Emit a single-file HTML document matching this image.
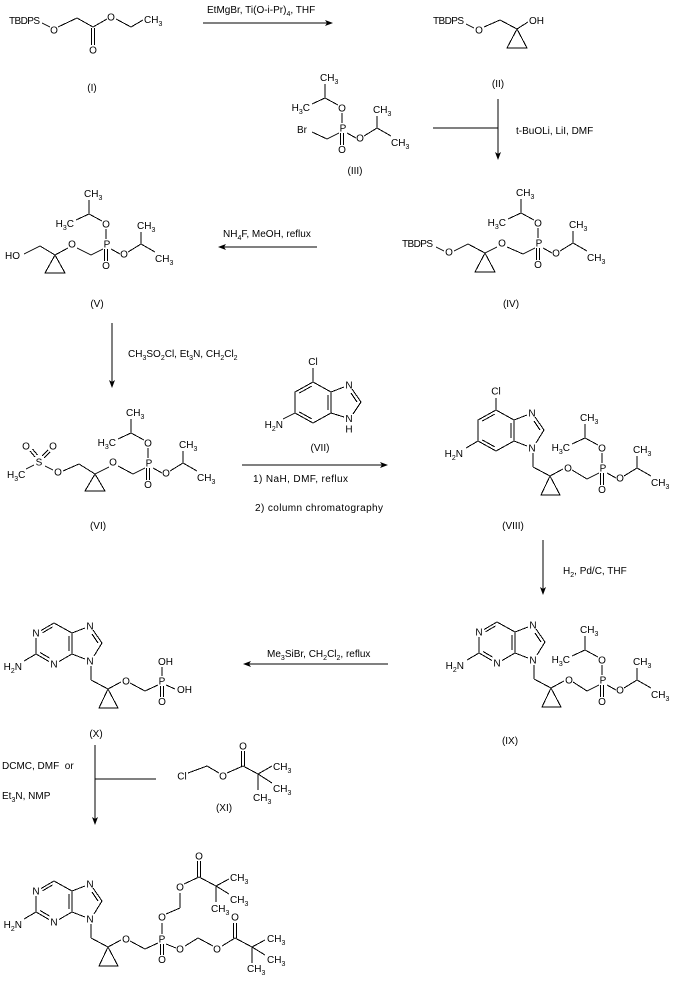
<!DOCTYPE html>
<html><head><meta charset="utf-8"><style>
html,body{margin:0;padding:0;background:#fff;}
svg{display:block;}
text{font-family:"Liberation Sans",Arial,sans-serif;font-size:10px;fill:#000;}
.m{text-anchor:middle;}
.e{text-anchor:end;}
.s{font-size:7px;}
line,polyline,polygon{stroke:#000;stroke-width:1;fill:none;shape-rendering:crispEdges;}
polygon.a{fill:#000;stroke:none;shape-rendering:auto;}
</style></head><body>
<svg width="677" height="982" viewBox="0 0 677 982" xmlns="http://www.w3.org/2000/svg">

<!-- (I) -->
<text x="9" y="24" textLength="31">TBDPS</text>
<line x1="42" y1="23" x2="50" y2="27"/>
<text class="m" x="54" y="33.5">O</text>
<polyline points="58,27 77,18 93,27 107,19"/>
<line x1="91.5" y1="28" x2="91.5" y2="45"/>
<line x1="94.5" y1="28" x2="94.5" y2="45"/>
<text class="m" x="93" y="53.5">O</text>
<text class="m" x="111" y="20.5">O</text>
<polyline points="116,19 131,27 143,20"/>
<text x="144" y="23">CH<tspan dy="3" class="s">3</tspan></text>
<text class="m" x="92" y="91">(I)</text>

<!-- arrow 1 -->
<line x1="203" y1="23" x2="330" y2="23"/>
<polygon class="a" points="333,23 325,20 327,23 325,26"/>
<text x="207" y="13">EtMgBr, Ti(O-i-Pr)<tspan dy="3" class="s">4</tspan><tspan dy="-3">, THF</tspan></text>

<!-- (II) -->
<text x="433" y="24" textLength="31">TBDPS</text>
<line x1="466" y1="24" x2="474" y2="28"/>
<text class="m" x="479" y="33.5">O</text>
<polyline points="484,27 500,20 517,29 528,22"/>
<text x="529" y="24">OH</text>
<polygon points="517,29 507,48 527,48"/>
<text class="m" x="498" y="87">(II)</text>

<!-- arrow 2 -->
<line x1="498" y1="99" x2="498" y2="157"/>
<polygon class="a" points="498,160 495,152 498,154 501,152"/>
<line x1="433" y1="128" x2="498" y2="128"/>
<text x="516" y="134">t-BuOLi, LiI, DMF</text>

<!-- (III) -->
<g transform="translate(343,128)">
<text class="m" x="0" y="3.5">P</text>
<line x1="-1" y1="-5" x2="-1" y2="-15"/>
<text class="m" x="-1" y="-16.5">O</text>
<line x1="-5" y1="-23" x2="-18" y2="-30"/>
<line x1="-18" y1="-30" x2="-18" y2="-44"/>
<text x="-23" y="-47">CH<tspan dy="3" class="s">3</tspan></text>
<line x1="-18" y1="-30" x2="-31" y2="-24"/>
<text class="e" x="-33" y="-17">H<tspan dy="3" class="s">3</tspan><tspan dy="-3">C</tspan></text>
<line x1="-2.5" y1="5" x2="-2.5" y2="17"/>
<line x1="0.5" y1="5" x2="0.5" y2="17"/>
<text class="m" x="-1" y="25">O</text>
<line x1="4" y1="5" x2="13" y2="10"/>
<text class="m" x="17" y="13.5">O</text>
<line x1="21" y1="8" x2="34" y2="0"/>
<line x1="34" y1="0" x2="34" y2="-12"/>
<text x="30" y="-15">CH<tspan dy="3" class="s">3</tspan></text>
<line x1="34" y1="0" x2="48" y2="8"/>
<text x="48" y="18">CH<tspan dy="3" class="s">3</tspan></text>
<line x1="-4" y1="5" x2="-16" y2="11"/>
</g>
<line x1="327" y1="139" x2="312" y2="132"/>
<text x="297" y="133">Br</text>
<text class="m" x="355" y="174">(III)</text>

<!-- (IV) -->
<g transform="translate(539,243)">
<text class="m" x="0" y="3.5">P</text>
<line x1="-1" y1="-5" x2="-1" y2="-15"/>
<text class="m" x="-1" y="-16.5">O</text>
<line x1="-5" y1="-23" x2="-18" y2="-30"/>
<line x1="-18" y1="-30" x2="-18" y2="-44"/>
<text x="-23" y="-47">CH<tspan dy="3" class="s">3</tspan></text>
<line x1="-18" y1="-30" x2="-31" y2="-24"/>
<text class="e" x="-33" y="-17">H<tspan dy="3" class="s">3</tspan><tspan dy="-3">C</tspan></text>
<line x1="-2.5" y1="5" x2="-2.5" y2="17"/>
<line x1="0.5" y1="5" x2="0.5" y2="17"/>
<text class="m" x="-1" y="25">O</text>
<line x1="4" y1="5" x2="13" y2="10"/>
<text class="m" x="17" y="13.5">O</text>
<line x1="21" y1="8" x2="34" y2="0"/>
<line x1="34" y1="0" x2="34" y2="-12"/>
<text x="30" y="-15">CH<tspan dy="3" class="s">3</tspan></text>
<line x1="34" y1="0" x2="48" y2="8"/>
<text x="48" y="18">CH<tspan dy="3" class="s">3</tspan></text>
<line x1="-4" y1="5" x2="-16" y2="11"/>
</g>
<line x1="523" y1="254" x2="507" y2="247"/>
<text class="m" x="502" y="246.5">O</text>
<line x1="497" y1="247" x2="485" y2="253"/>
<polygon points="485,253 475,272 495,272"/>
<line x1="485" y1="253" x2="468" y2="244"/>
<line x1="468" y1="244" x2="454" y2="251"/>
<text class="m" x="449" y="255.5">O</text>
<line x1="444" y1="251" x2="436" y2="247"/>
<text x="402" y="247" textLength="31">TBDPS</text>
<text class="m" x="511" y="307">(IV)</text>

<!-- arrow IV -> V -->
<line x1="221" y1="247" x2="317" y2="247"/>
<polygon class="a" points="218,247 226,244 224,247 226,250"/>
<text x="223" y="237">NH<tspan dy="3" class="s">4</tspan><tspan dy="-3">F, MeOH, reflux</tspan></text>

<!-- (V) -->
<g transform="translate(107,244)">
<text class="m" x="0" y="3.5">P</text>
<line x1="-1" y1="-5" x2="-1" y2="-15"/>
<text class="m" x="-1" y="-16.5">O</text>
<line x1="-5" y1="-23" x2="-18" y2="-30"/>
<line x1="-18" y1="-30" x2="-18" y2="-44"/>
<text x="-23" y="-47">CH<tspan dy="3" class="s">3</tspan></text>
<line x1="-18" y1="-30" x2="-31" y2="-24"/>
<text class="e" x="-33" y="-17">H<tspan dy="3" class="s">3</tspan><tspan dy="-3">C</tspan></text>
<line x1="-2.5" y1="5" x2="-2.5" y2="17"/>
<line x1="0.5" y1="5" x2="0.5" y2="17"/>
<text class="m" x="-1" y="25">O</text>
<line x1="4" y1="5" x2="13" y2="10"/>
<text class="m" x="17" y="13.5">O</text>
<line x1="21" y1="8" x2="34" y2="0"/>
<line x1="34" y1="0" x2="34" y2="-12"/>
<text x="30" y="-15">CH<tspan dy="3" class="s">3</tspan></text>
<line x1="34" y1="0" x2="48" y2="8"/>
<text x="48" y="18">CH<tspan dy="3" class="s">3</tspan></text>
<line x1="-4" y1="5" x2="-16" y2="11"/>
</g>
<line x1="91" y1="255" x2="77" y2="248"/>
<text class="m" x="72" y="247.5">O</text>
<line x1="68" y1="248" x2="55" y2="255"/>
<polygon points="55,255 45,273 65,273"/>
<line x1="55" y1="255" x2="40" y2="246"/>
<line x1="40" y1="246" x2="24" y2="254"/>
<text x="5" y="259">HO</text>
<text class="m" x="97" y="307">(V)</text>

<!-- arrow V -> VI -->
<line x1="112" y1="323" x2="112" y2="385"/>
<polygon class="a" points="112,388 109,380 112,382 115,380"/>
<text x="128" y="357">CH<tspan dy="3" class="s">3</tspan><tspan dy="-3">SO</tspan><tspan dy="3" class="s">2</tspan><tspan dy="-3">Cl, Et</tspan><tspan dy="3" class="s">3</tspan><tspan dy="-3">N, CH</tspan><tspan dy="3" class="s">2</tspan><tspan dy="-3">Cl</tspan><tspan dy="3" class="s">2</tspan></text>

<!-- (VI) -->
<g transform="translate(149,463)">
<text class="m" x="0" y="3.5">P</text>
<line x1="-1" y1="-5" x2="-1" y2="-15"/>
<text class="m" x="-1" y="-16.5">O</text>
<line x1="-5" y1="-23" x2="-18" y2="-30"/>
<line x1="-18" y1="-30" x2="-18" y2="-44"/>
<text x="-23" y="-47">CH<tspan dy="3" class="s">3</tspan></text>
<line x1="-18" y1="-30" x2="-31" y2="-24"/>
<text class="e" x="-33" y="-17">H<tspan dy="3" class="s">3</tspan><tspan dy="-3">C</tspan></text>
<line x1="-2.5" y1="5" x2="-2.5" y2="17"/>
<line x1="0.5" y1="5" x2="0.5" y2="17"/>
<text class="m" x="-1" y="25">O</text>
<line x1="4" y1="5" x2="13" y2="10"/>
<text class="m" x="17" y="13.5">O</text>
<line x1="21" y1="8" x2="34" y2="0"/>
<line x1="34" y1="0" x2="34" y2="-12"/>
<text x="30" y="-15">CH<tspan dy="3" class="s">3</tspan></text>
<line x1="34" y1="0" x2="48" y2="8"/>
<text x="48" y="18">CH<tspan dy="3" class="s">3</tspan></text>
<line x1="-4" y1="5" x2="-16" y2="11"/>
</g>
<line x1="133" y1="474" x2="118" y2="466"/>
<text class="m" x="113" y="465.5">O</text>
<line x1="109" y1="467" x2="95" y2="474"/>
<polygon points="95,474 85,491 105,491"/>
<line x1="95" y1="474" x2="79" y2="464"/>
<line x1="79" y1="464" x2="63" y2="471"/>
<text class="m" x="58" y="475.5">O</text>
<line x1="53" y1="470" x2="45" y2="466"/>
<text class="m" x="39" y="465.5">S</text>
<line x1="34" y1="465" x2="26" y2="469"/>
<text x="7" y="478">H<tspan dy="3" class="s">3</tspan><tspan dy="-3">C</tspan></text>
<text class="m" x="26" y="449.5">O</text>
<line x1="35" y1="457" x2="30" y2="451"/>
<line x1="37.5" y1="455" x2="32.5" y2="449"/>
<text class="m" x="53" y="449.5">O</text>
<line x1="42" y1="456" x2="48" y2="450"/>
<line x1="44" y1="458" x2="50" y2="452"/>
<text class="m" x="98" y="529">(VI)</text>

<!-- (VII) -->
<g transform="translate(313,382)">
<text class="m" x="0" y="-17">Cl</text>
<line x1="0" y1="-14" x2="0" y2="0"/>
<polygon points="0,0 -18,10 -18,31 0,41 18,31 18,10"/>
<line x1="-1.2" y1="4.1" x2="-13.8" y2="11.1"/>
<line x1="-13.8" y1="29.9" x2="-1.2" y2="36.9"/>
<line x1="15" y1="13" x2="15" y2="28"/>
<line x1="18" y1="10" x2="31" y2="5"/>
<text class="m" x="36" y="6.5">N</text>
<line x1="39" y1="7" x2="48" y2="20"/>
<line x1="38" y1="11" x2="44" y2="20"/>
<line x1="48" y1="20" x2="40" y2="32"/>
<text class="m" x="36" y="40">N</text>
<text class="m" x="36" y="50.5">H</text>
<line x1="31" y1="35" x2="18" y2="31"/>
<line x1="-18" y1="31" x2="-30" y2="37"/>
<text class="e" x="-30" y="46">H<tspan dy="3" class="s">2</tspan><tspan dy="-3">N</tspan></text>
</g>
<text class="m" x="320" y="451">(VII)</text>

<!-- arrow VI -> VIII -->
<line x1="242" y1="465" x2="385" y2="465"/>
<polygon class="a" points="388,465 380,462 382,465 380,468"/>
<text x="253" y="482" textLength="95">1) NaH, DMF, reflux</text>
<text x="255" y="511" textLength="128">2) column chromatography</text>

<!-- (VIII) -->
<g transform="translate(496,410)">
<text class="m" x="0" y="-15.5">Cl</text>
<line x1="0" y1="-12" x2="0" y2="0"/>
<polygon points="0,0 -18,10 -18,31 0,41 18,31 18,10"/>
<line x1="-1.2" y1="4.1" x2="-13.8" y2="11.1"/>
<line x1="-13.8" y1="29.9" x2="-1.2" y2="36.9"/>
<line x1="15" y1="13" x2="15" y2="28"/>
<line x1="18" y1="10" x2="31" y2="5"/>
<text class="m" x="36" y="6.5">N</text>
<line x1="39" y1="7" x2="48" y2="20"/>
<line x1="38" y1="11" x2="44" y2="20"/>
<line x1="48" y1="20" x2="40" y2="33"/>
<text class="m" x="36" y="41.5">N</text>
<line x1="31" y1="36" x2="18" y2="31"/>
<line x1="-18" y1="31" x2="-30" y2="38"/>
<text class="e" x="-33" y="47">H<tspan dy="3" class="s">2</tspan><tspan dy="-3">N</tspan></text>
<line x1="37" y1="43" x2="37" y2="57"/>
<line x1="37" y1="57" x2="54" y2="66"/>
<polygon points="54,66 45,85 64,85"/>
<line x1="54" y1="66" x2="67" y2="59"/>
<text class="m" x="72" y="61.5">O</text>
</g>
<line x1="572" y1="470" x2="587" y2="479"/>
<g transform="translate(603,468)">
<text class="m" x="0" y="3.5">P</text>
<line x1="-1" y1="-5" x2="-1" y2="-15"/>
<text class="m" x="-1" y="-16.5">O</text>
<line x1="-5" y1="-23" x2="-18" y2="-30"/>
<line x1="-18" y1="-30" x2="-18" y2="-44"/>
<text x="-23" y="-47">CH<tspan dy="3" class="s">3</tspan></text>
<line x1="-18" y1="-30" x2="-31" y2="-24"/>
<text class="e" x="-33" y="-17">H<tspan dy="3" class="s">3</tspan><tspan dy="-3">C</tspan></text>
<line x1="-2.5" y1="5" x2="-2.5" y2="17"/>
<line x1="0.5" y1="5" x2="0.5" y2="17"/>
<text class="m" x="-1" y="25">O</text>
<line x1="4" y1="5" x2="13" y2="10"/>
<text class="m" x="17" y="13.5">O</text>
<line x1="21" y1="8" x2="34" y2="0"/>
<line x1="34" y1="0" x2="34" y2="-12"/>
<text x="30" y="-15">CH<tspan dy="3" class="s">3</tspan></text>
<line x1="34" y1="0" x2="48" y2="8"/>
<text x="48" y="18">CH<tspan dy="3" class="s">3</tspan></text>
<line x1="-4" y1="5" x2="-16" y2="11"/>
</g>
<text class="m" x="513" y="529">(VIII)</text>

<!-- arrow VIII -> IX -->
<line x1="543" y1="540" x2="543" y2="592"/>
<polygon class="a" points="543,595 540,587 543,589 546,587"/>
<text x="563" y="574">H<tspan dy="3" class="s">2</tspan><tspan dy="-3">, Pd/C, THF</tspan></text>

<!-- (IX) -->
<g transform="translate(497,622)">
<line x1="0" y1="0" x2="-13" y2="7.5"/>
<line x1="-1.5" y1="4" x2="-11.5" y2="9.8"/>
<text class="m" x="-18" y="13.5">N</text>
<line x1="-18" y1="15" x2="-18" y2="31"/>
<line x1="-18" y1="31" x2="-5" y2="38.5"/>
<line x1="-14" y1="29.5" x2="-4.5" y2="35"/>
<text class="m" x="0" y="44.5">N</text>
<line x1="5" y1="38.5" x2="18" y2="31"/>
<line x1="18" y1="31" x2="18" y2="10"/>
<line x1="15" y1="28" x2="15" y2="13"/>
<line x1="18" y1="10" x2="0" y2="0"/>
<line x1="18" y1="10" x2="31" y2="5"/>
<text class="m" x="36" y="6.5">N</text>
<line x1="39" y1="7" x2="48" y2="20"/>
<line x1="38" y1="11" x2="44" y2="20"/>
<line x1="48" y1="20" x2="40" y2="33"/>
<text class="m" x="36" y="41.5">N</text>
<line x1="31" y1="36" x2="18" y2="31"/>
<line x1="-18" y1="31" x2="-30" y2="38"/>
<text class="e" x="-33" y="47">H<tspan dy="3" class="s">2</tspan><tspan dy="-3">N</tspan></text>
<line x1="37" y1="43" x2="37" y2="57"/>
<line x1="37" y1="57" x2="54" y2="66"/>
<polygon points="54,66 45,85 64,85"/>
<line x1="54" y1="66" x2="67" y2="59"/>
<text class="m" x="72" y="61.5">O</text>
</g>
<line x1="573" y1="682" x2="587" y2="691"/>
<g transform="translate(603,680)">
<text class="m" x="0" y="3.5">P</text>
<line x1="-1" y1="-5" x2="-1" y2="-15"/>
<text class="m" x="-1" y="-16.5">O</text>
<line x1="-5" y1="-23" x2="-18" y2="-30"/>
<line x1="-18" y1="-30" x2="-18" y2="-44"/>
<text x="-23" y="-47">CH<tspan dy="3" class="s">3</tspan></text>
<line x1="-18" y1="-30" x2="-31" y2="-24"/>
<text class="e" x="-33" y="-17">H<tspan dy="3" class="s">3</tspan><tspan dy="-3">C</tspan></text>
<line x1="-2.5" y1="5" x2="-2.5" y2="17"/>
<line x1="0.5" y1="5" x2="0.5" y2="17"/>
<text class="m" x="-1" y="25">O</text>
<line x1="4" y1="5" x2="13" y2="10"/>
<text class="m" x="17" y="13.5">O</text>
<line x1="21" y1="8" x2="34" y2="0"/>
<line x1="34" y1="0" x2="34" y2="-12"/>
<text x="30" y="-15">CH<tspan dy="3" class="s">3</tspan></text>
<line x1="34" y1="0" x2="48" y2="8"/>
<text x="48" y="18">CH<tspan dy="3" class="s">3</tspan></text>
<line x1="-4" y1="5" x2="-16" y2="11"/>
</g>
<text class="m" x="510" y="744">(IX)</text>

<!-- arrow IX -> X -->
<line x1="246" y1="664" x2="388" y2="664"/>
<polygon class="a" points="243,664 251,661 249,664 251,667"/>
<text x="267" y="657">Me<tspan dy="3" class="s">3</tspan><tspan dy="-3">SiBr, CH</tspan><tspan dy="3" class="s">2</tspan><tspan dy="-3">Cl</tspan><tspan dy="3" class="s">2</tspan><tspan dy="-3">, reflux</tspan></text>

<!-- (X) -->
<g transform="translate(54,623)">
<line x1="0" y1="0" x2="-13" y2="7.5"/>
<line x1="-1.5" y1="4" x2="-11.5" y2="9.8"/>
<text class="m" x="-18" y="13.5">N</text>
<line x1="-18" y1="15" x2="-18" y2="31"/>
<line x1="-18" y1="31" x2="-5" y2="38.5"/>
<line x1="-14" y1="29.5" x2="-4.5" y2="35"/>
<text class="m" x="0" y="44.5">N</text>
<line x1="5" y1="38.5" x2="18" y2="31"/>
<line x1="18" y1="31" x2="18" y2="10"/>
<line x1="15" y1="28" x2="15" y2="13"/>
<line x1="18" y1="10" x2="0" y2="0"/>
<line x1="18" y1="10" x2="31" y2="5"/>
<text class="m" x="36" y="6.5">N</text>
<line x1="39" y1="7" x2="48" y2="20"/>
<line x1="38" y1="11" x2="44" y2="20"/>
<line x1="48" y1="20" x2="40" y2="33"/>
<text class="m" x="36" y="41.5">N</text>
<line x1="31" y1="36" x2="18" y2="31"/>
<line x1="-18" y1="31" x2="-30" y2="38"/>
<text class="e" x="-32" y="47">H<tspan dy="3" class="s">2</tspan><tspan dy="-3">N</tspan></text>
<line x1="37" y1="43" x2="37" y2="57"/>
<line x1="37" y1="57" x2="54" y2="66"/>
<polygon points="54,66 45,85 64,85"/>
<line x1="54" y1="66" x2="67" y2="59"/>
<text class="m" x="72" y="61.5">O</text>
</g>
<line x1="130" y1="683" x2="145" y2="691"/>
<line x1="145" y1="691" x2="158" y2="685"/>
<text class="m" x="162" y="684.5">P</text>
<line x1="162" y1="676" x2="162" y2="667"/>
<text x="158" y="665">OH</text>
<line x1="166" y1="685" x2="175" y2="689"/>
<text x="177" y="693">OH</text>
<line x1="160.5" y1="686" x2="160.5" y2="697"/>
<line x1="163.5" y1="686" x2="163.5" y2="697"/>
<text class="m" x="162" y="705">O</text>
<text class="m" x="96" y="737">(X)</text>

<!-- arrow X -> final -->
<line x1="95" y1="745" x2="95" y2="822"/>
<polygon class="a" points="95,825 92,817 95,819 98,817"/>
<line x1="95" y1="779" x2="156" y2="779"/>
<text x="2" y="769">DCMC, DMF&#160; or</text>
<text x="2" y="799">Et<tspan dy="3" class="s">3</tspan><tspan dy="-3">N, NMP</tspan></text>

<!-- (XI) -->
<text class="m" x="182" y="779.5">Cl</text>
<polyline points="188,773 207,766 219,773"/>
<text class="m" x="223" y="779.5">O</text>
<line x1="227" y1="773" x2="243" y2="766"/>
<line x1="241.5" y1="766" x2="241.5" y2="751"/>
<line x1="244.5" y1="766" x2="244.5" y2="751"/>
<text class="m" x="243" y="749.5">O</text>
<line x1="243" y1="766" x2="258" y2="774"/>
<line x1="258" y1="774" x2="272" y2="766"/>
<text x="273" y="770">CH<tspan dy="3" class="s">3</tspan></text>
<line x1="258" y1="774" x2="272" y2="783"/>
<text x="273" y="792">CH<tspan dy="3" class="s">3</tspan></text>
<line x1="258" y1="774" x2="258" y2="790"/>
<text x="253" y="801">CH<tspan dy="3" class="s">3</tspan></text>
<text class="m" x="224" y="811">(XI)</text>

<!-- final product -->
<g transform="translate(54,881)">
<line x1="0" y1="0" x2="-13" y2="7.5"/>
<line x1="-1.5" y1="4" x2="-11.5" y2="9.8"/>
<text class="m" x="-18" y="13.5">N</text>
<line x1="-18" y1="15" x2="-18" y2="31"/>
<line x1="-18" y1="31" x2="-5" y2="38.5"/>
<line x1="-14" y1="29.5" x2="-4.5" y2="35"/>
<text class="m" x="0" y="44.5">N</text>
<line x1="5" y1="38.5" x2="18" y2="31"/>
<line x1="18" y1="31" x2="18" y2="10"/>
<line x1="15" y1="28" x2="15" y2="13"/>
<line x1="18" y1="10" x2="0" y2="0"/>
<line x1="18" y1="10" x2="31" y2="5"/>
<text class="m" x="36" y="6.5">N</text>
<line x1="39" y1="7" x2="48" y2="20"/>
<line x1="38" y1="11" x2="44" y2="20"/>
<line x1="48" y1="20" x2="40" y2="33"/>
<text class="m" x="36" y="41.5">N</text>
<line x1="31" y1="36" x2="18" y2="31"/>
<line x1="-18" y1="31" x2="-30" y2="38"/>
<text class="e" x="-32" y="47">H<tspan dy="3" class="s">2</tspan><tspan dy="-3">N</tspan></text>
<line x1="37" y1="43" x2="37" y2="57"/>
<line x1="37" y1="57" x2="54" y2="66"/>
<polygon points="54,66 45,85 64,85"/>
<line x1="54" y1="66" x2="67" y2="59"/>
<text class="m" x="72" y="61.5">O</text>
</g>
<line x1="130" y1="941" x2="145" y2="949"/>
<line x1="145" y1="949" x2="158" y2="943"/>
<text class="m" x="162" y="942.5">P</text>
<line x1="160.5" y1="944" x2="160.5" y2="955"/>
<line x1="163.5" y1="944" x2="163.5" y2="955"/>
<text class="m" x="162" y="963">O</text>
<line x1="162" y1="934" x2="162" y2="923"/>
<text class="m" x="162" y="920.5">O</text>
<line x1="166" y1="914" x2="180" y2="908"/>
<line x1="180" y1="908" x2="180" y2="893"/>
<text class="m" x="180" y="890.5">O</text>
<line x1="184" y1="884" x2="199" y2="877"/>
<line x1="197.5" y1="877" x2="197.5" y2="861"/>
<line x1="200.5" y1="877" x2="200.5" y2="861"/>
<text class="m" x="199" y="859.5">O</text>
<line x1="199" y1="877" x2="216" y2="886"/>
<line x1="216" y1="886" x2="229" y2="879"/>
<text x="230" y="881">CH<tspan dy="3" class="s">3</tspan></text>
<line x1="216" y1="886" x2="229" y2="894"/>
<text x="230" y="903">CH<tspan dy="3" class="s">3</tspan></text>
<line x1="216" y1="886" x2="216" y2="902"/>
<text x="211" y="912">CH<tspan dy="3" class="s">3</tspan></text>
<line x1="166" y1="944" x2="176" y2="948"/>
<text class="m" x="180" y="952.5">O</text>
<line x1="185" y1="946" x2="198" y2="938"/>
<line x1="198" y1="938" x2="213" y2="946"/>
<text class="m" x="217" y="952.5">O</text>
<line x1="222" y1="946" x2="235" y2="938"/>
<line x1="233.5" y1="938" x2="233.5" y2="923"/>
<line x1="236.5" y1="938" x2="236.5" y2="923"/>
<text class="m" x="235" y="920.5">O</text>
<line x1="235" y1="938" x2="252" y2="947"/>
<line x1="252" y1="947" x2="265" y2="940"/>
<text x="267" y="942">CH<tspan dy="3" class="s">3</tspan></text>
<line x1="252" y1="947" x2="265" y2="955"/>
<text x="267" y="963">CH<tspan dy="3" class="s">3</tspan></text>
<line x1="252" y1="947" x2="252" y2="963"/>
<text x="247" y="972">CH<tspan dy="3" class="s">3</tspan></text>

</svg>
</body></html>
